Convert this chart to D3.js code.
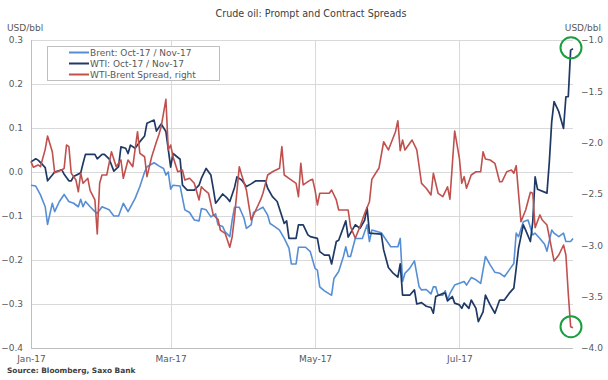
<!DOCTYPE html>
<html><head><meta charset="utf-8">
<script src="https://cdn.jsdelivr.net/npm/d3@7"></script>
<style>body{margin:0;background:#fff}svg{display:block}</style>
</head><body>
<svg id="chart" width="608" height="380"></svg>
<script>
// ---------- DATA ----------
const chartTitle = "Crude oil: Prompt and Contract Spreads";
const unitLabel = "USD/bbl";
const sourceText = "Source: Bloomberg, Saxo Bank";
const seriesNames = ["Brent: Oct-17 / Nov-17", "WTI: Oct-17 / Nov-17", "WTI-Brent Spread, right"];
const leftTicks = [0.3, 0.2, 0.1, 0.0, -0.1, -0.2, -0.3, -0.4];
const rightTicks = [-1.0, -1.5, -2.0, -2.5, -3.0, -3.5, -4.0];
const xTickDates = ["2017-01-01", "2017-03-01", "2017-05-01", "2017-07-01"];
const xTickLabels = ["Jan-17", "Mar-17", "May-17", "Jul-17"];
const startDate = "2017-01-01";   // day 0
const endDate = "2017-08-18";
// [day offset from startDate, value]
const brent = [[0,-0.03],[2,-0.032],[4,-0.052],[6,-0.079],[7,-0.119],[9,-0.071],[10,-0.09],[12,-0.067],[14,-0.051],[16,-0.067],[18,-0.071],[20,-0.079],[21,-0.062],[22,-0.079],[23,-0.067],[25,-0.079],[27,-0.09],[28,-0.094],[30,-0.079],[33,-0.086],[35,-0.1],[37,-0.1],[39,-0.071],[41,-0.09],[44,-0.06],[46,-0.033],[48,0.0],[49,0.012],[52,0.021],[54,0.014],[56,0.008],[57,-0.007],[58,0.0],[59,-0.039],[60,-0.03],[63,-0.032],[65,-0.086],[67,-0.092],[69,-0.109],[71,-0.111],[72,-0.083],[74,-0.086],[76,-0.102],[78,-0.095],[79,-0.12],[81,-0.124],[82,-0.136],[84,-0.147],[85,-0.109],[86,-0.08],[88,-0.08],[90,-0.105],[91,-0.128],[93,-0.12],[94,-0.092],[96,-0.086],[98,-0.08],[100,-0.098],[101,-0.117],[103,-0.124],[105,-0.132],[107,-0.151],[109,-0.173],[110,-0.209],[112,-0.209],[113,-0.171],[116,-0.171],[118,-0.181],[120,-0.219],[121,-0.223],[122,-0.261],[124,-0.27],[126,-0.277],[127,-0.28],[128,-0.242],[130,-0.226],[132,-0.192],[133,-0.17],[134,-0.192],[135,-0.192],[137,-0.151],[140,-0.151],[142,-0.12],[143,-0.158],[144,-0.132],[148,-0.138],[152,-0.17],[155,-0.17],[156,-0.151],[157,-0.249],[158,-0.23],[160,-0.219],[162,-0.202],[164,-0.261],[165,-0.268],[167,-0.267],[169,-0.277],[170,-0.261],[171,-0.261],[172,-0.28],[174,-0.28],[175,-0.27],[176,-0.291],[177,-0.276],[179,-0.257],[181,-0.253],[183,-0.249],[184,-0.257],[186,-0.24],[188,-0.245],[190,-0.253],[192,-0.192],[194,-0.211],[196,-0.228],[198,-0.23],[200,-0.238],[202,-0.223],[204,-0.208],[205,-0.139],[206,-0.147],[208,-0.113],[210,-0.109],[212,-0.143],[213,-0.139],[215,-0.151],[217,-0.164],[218,-0.18],[220,-0.132],[221,-0.139],[223,-0.147],[225,-0.139],[226,-0.158],[228,-0.158],[229,-0.151]];
const wti = [[0,0.023],[2,0.03],[3,0.027],[5,0.016],[6,0.01],[7,-0.02],[9,-0.007],[10,0.0],[13,0.005],[14,-0.005],[16,-0.02],[17,-0.02],[18,-0.01],[21,-0.002],[22,0.02],[23,0.04],[27,0.04],[28,0.03],[30,0.04],[31,0.04],[33,0.03],[35,0.002],[37,0.012],[38,0.057],[40,0.054],[41,0.042],[42,0.061],[44,0.054],[46,0.069],[48,0.082],[49,0.111],[52,0.118],[53,0.093],[55,0.109],[57,0.092],[59,0.011],[60,0.042],[63,0.029],[64,-0.03],[66,-0.041],[69,-0.041],[71,-0.03],[72,-0.014],[74,0.008],[76,-0.007],[77,-0.037],[78,-0.071],[79,-0.064],[81,-0.05],[83,-0.06],[84,-0.067],[86,-0.035],[87,-0.011],[89,-0.018],[91,-0.033],[93,-0.027],[95,-0.02],[99,-0.02],[100,-0.037],[102,-0.056],[104,-0.067],[107,-0.117],[108,-0.111],[109,-0.151],[112,-0.151],[113,-0.12],[115,-0.12],[117,-0.143],[118,-0.147],[121,-0.151],[122,-0.181],[124,-0.189],[126,-0.189],[127,-0.209],[129,-0.158],[130,-0.155],[133,-0.111],[134,-0.148],[137,-0.12],[139,-0.128],[141,-0.109],[142,-0.081],[143,-0.139],[148,-0.141],[149,-0.177],[151,-0.217],[153,-0.23],[155,-0.239],[156,-0.209],[157,-0.28],[160,-0.28],[162,-0.268],[163,-0.3],[165,-0.297],[167,-0.305],[169,-0.308],[170,-0.321],[171,-0.283],[174,-0.276],[175,-0.275],[176,-0.293],[178,-0.283],[179,-0.298],[181,-0.302],[182,-0.31],[183,-0.298],[185,-0.31],[186,-0.291],[188,-0.31],[189,-0.34],[191,-0.318],[192,-0.28],[194,-0.302],[196,-0.321],[198,-0.291],[200,-0.291],[202,-0.276],[204,-0.264],[205,-0.219],[206,-0.173],[208,-0.12],[209,-0.132],[211,-0.158],[212,-0.113],[213,-0.011],[214,-0.039],[218,-0.048],[219,0.023],[220,0.114],[221,0.16],[223,0.137],[225,0.099],[226,0.171],[227,0.171],[228,0.277],[229,0.28]];
const spread = [[0,-2.185],[1,-2.24],[3,-2.217],[4,-2.234],[6,-2.065],[7,-1.935],[9,-2.088],[10,-2.292],[13,-2.266],[14,-2.25],[15,-2.023],[16,-2.039],[17,-2.298],[19,-2.364],[20,-2.478],[21,-2.298],[22,-2.396],[24,-2.347],[25,-2.468],[27,-2.558],[28,-2.89],[29,-2.396],[30,-2.315],[32,-2.315],[34,-2.088],[36,-2.234],[37,-2.201],[38,-2.169],[39,-2.347],[41,-2.169],[43,-2.234],[45,-1.893],[46,-2.104],[48,-2.137],[49,-2.331],[51,-2.137],[53,-1.991],[54,-1.925],[55,-1.844],[57,-1.578],[58,-2.071],[59,-2.023],[60,-2.137],[62,-2.283],[64,-2.267],[65,-2.364],[67,-2.347],[69,-2.396],[71,-2.558],[72,-2.429],[73,-2.454],[75,-2.493],[77,-2.704],[79,-2.746],[80,-2.851],[82,-2.883],[84,-3.019],[85,-2.916],[86,-2.721],[88,-2.234],[89,-2.315],[91,-2.461],[93,-2.753],[95,-2.656],[97,-2.558],[98,-2.493],[100,-2.315],[102,-2.283],[105,-2.25],[106,-2.039],[107,-2.315],[109,-2.347],[112,-2.396],[113,-2.526],[114,-2.201],[115,-2.412],[117,-2.38],[118,-2.364],[119,-2.357],[120,-2.461],[121,-2.607],[122,-2.493],[124,-2.493],[126,-2.493],[127,-2.461],[129,-2.558],[130,-2.656],[132,-2.656],[134,-2.656],[135,-2.818],[137,-2.931],[139,-2.818],[141,-2.688],[143,-2.575],[144,-2.357],[146,-2.283],[147,-2.25],[149,-1.991],[151,-2.071],[154,-1.893],[155,-1.786],[156,-2.078],[157,-1.974],[158,-2.071],[161,-1.974],[163,-2.071],[165,-2.396],[167,-2.444],[169,-2.51],[170,-2.298],[172,-2.493],[174,-2.526],[176,-2.43],[177,-2.55],[179,-1.886],[181,-2.152],[182,-2.396],[183,-2.331],[184,-2.444],[186,-2.315],[188,-2.283],[190,-2.283],[191,-2.088],[192,-2.159],[194,-2.169],[196,-2.201],[198,-2.38],[199,-2.38],[201,-2.283],[203,-2.266],[204,-2.298],[205,-2.224],[207,-2.77],[209,-2.656],[211,-2.483],[212,-2.493],[213,-2.828],[215,-2.704],[216,-2.753],[218,-2.802],[221,-3.153],[223,-3.094],[225,-2.997],[226,-3.094],[227,-3.467],[228,-3.792],[229,-3.802]];

// ---------- STYLE / LAYOUT ----------
const W = 608, H = 380;
const m = {left: 31, right: 35, top: 40, bottom: 32};
const colors = ["#558ed5", "#1f3864", "#c0504d"];
const textColor = "#595959";
const gridColor = "#d9d9d9";
const axisColor = "#bfbfbf";
const font = "'DejaVu Sans', Verdana, sans-serif";

const parse = d3.timeParse("%Y-%m-%d");
const t0 = parse(startDate);
const toDate = d => d3.timeDay.offset(t0, d);

const svg = d3.select("#chart").style("font-family", font);
const x = d3.scaleTime().domain([t0, parse(endDate)]).range([m.left, W - m.right]);
const yL = d3.scaleLinear().domain([-0.4, 0.3]).range([H - m.bottom, m.top]);
const yR = d3.scaleLinear().domain([-4.0, -1.0]).range([H - m.bottom, m.top]);

// title
svg.append("text").attr("x", 311).attr("y", 17).attr("text-anchor", "middle")
  .attr("font-size", 9.6).attr("fill", "#404040").text(chartTitle);
svg.append("text").attr("x", 7).attr("y", 31).attr("font-size", 9).attr("fill", textColor).text(unitLabel);
svg.append("text").attr("x", 601).attr("y", 31).attr("text-anchor", "end").attr("font-size", 9).attr("fill", textColor).text(unitLabel);

// horizontal gridlines
svg.append("g").selectAll("line").data(leftTicks.slice(0, -1)).join("line")
  .attr("x1", m.left).attr("x2", W - m.right)
  .attr("y1", d => Math.round(yL(d)) + 0.5).attr("y2", d => Math.round(yL(d)) + 0.5)
  .attr("stroke", gridColor).attr("stroke-width", 1);
// vertical gridlines
svg.append("g").selectAll("line").data(xTickDates.slice(1)).join("line")
  .attr("x1", d => Math.round(x(parse(d))) + 0.5).attr("x2", d => Math.round(x(parse(d))) + 0.5)
  .attr("y1", m.top).attr("y2", H - m.bottom)
  .attr("stroke", gridColor).attr("stroke-width", 1);

// axes lines
svg.append("line").attr("x1", m.left + 0.5).attr("x2", m.left + 0.5).attr("y1", m.top).attr("y2", H - m.bottom)
  .attr("stroke", axisColor);
svg.append("line").attr("x1", m.left).attr("x2", W - m.right).attr("y1", H - m.bottom + 0.5).attr("y2", H - m.bottom + 0.5)
  .attr("stroke", axisColor);

// left axis labels
const gl = svg.append("g").attr("transform", `translate(${m.left - 8},0)`)
  .call(d3.axisLeft(yL).tickValues(leftTicks).tickFormat(d3.format(".1f")).tickSize(0).tickPadding(0));
gl.select(".domain").remove();
gl.selectAll("text").attr("font-size", 9).attr("fill", textColor).attr("font-family", font);

// right axis labels
const gr = svg.append("g").attr("transform", `translate(${W - m.right + 8},0)`)
  .call(d3.axisRight(yR).tickValues(rightTicks).tickFormat(d3.format(".1f")).tickSize(0).tickPadding(0));
gr.select(".domain").remove();
gr.selectAll("text").attr("font-size", 9).attr("fill", textColor).attr("font-family", font);

// x axis labels
const gx = svg.append("g").attr("transform", `translate(0,${H - m.bottom + 6})`)
  .call(d3.axisBottom(x).tickValues(xTickDates.map(parse)).tickFormat((d, i) => xTickLabels[i]).tickSize(0).tickPadding(0));
gx.select(".domain").remove();
gx.selectAll("text").attr("font-size", 9).attr("fill", textColor).attr("font-family", font).attr("dy", "0.9em");

// lines
const lineL = d3.line().x(d => x(toDate(d[0]))).y(d => yL(d[1]));
const lineR = d3.line().x(d => x(toDate(d[0]))).y(d => yR(d[1]));
svg.append("path").datum(brent).attr("d", lineL).attr("fill", "none").attr("stroke", colors[0]).attr("stroke-width", 1.6).attr("stroke-linejoin", "round");
svg.append("path").datum(wti).attr("d", lineL).attr("fill", "none").attr("stroke", colors[1]).attr("stroke-width", 1.7).attr("stroke-linejoin", "round");
svg.append("path").datum(spread).attr("d", lineR).attr("fill", "none").attr("stroke", colors[2]).attr("stroke-width", 1.6).attr("stroke-linejoin", "round");

// highlight circles on last points
const lastW = wti[wti.length - 1], lastS = spread[spread.length - 1];
svg.append("circle").attr("cx", x(toDate(lastW[0])) - 2).attr("cy", yL(lastW[1]) - 1).attr("r", 10.5)
  .attr("fill", "none").attr("stroke", "#1a9e3f").attr("stroke-width", 2);
svg.append("circle").attr("cx", x(toDate(lastS[0])) - 2).attr("cy", yR(lastS[1]) - 1).attr("r", 10.5)
  .attr("fill", "none").attr("stroke", "#1a9e3f").attr("stroke-width", 2);

// legend
const lg = svg.append("g").attr("transform", "translate(47,46)");
lg.append("rect").attr("x", 0.5).attr("y", 0.5).attr("width", 172).attr("height", 34)
  .attr("fill", "#fff").attr("stroke", axisColor);
seriesNames.forEach((name, i) => {
  const yy = 6.5 + i * 11;
  lg.append("line").attr("x1", 22).attr("x2", 42).attr("y1", yy).attr("y2", yy)
    .attr("stroke", colors[i]).attr("stroke-width", 2);
  lg.append("text").attr("x", 43).attr("y", yy).attr("dy", "0.35em").attr("font-size", 9)
    .attr("fill", textColor).text(name);
});

// source
svg.append("text").attr("x", 7).attr("y", 373).attr("font-size", 7.4).attr("font-weight", "bold")
  .attr("fill", "#404040").text(sourceText);
</script>
</body></html>
